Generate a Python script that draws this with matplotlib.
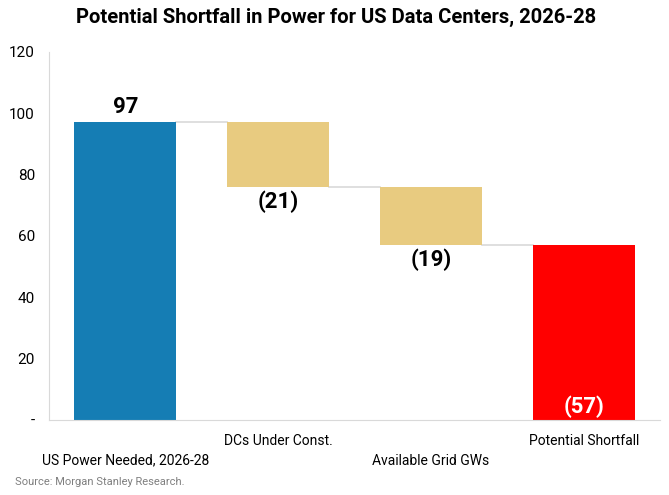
import matplotlib
import matplotlib.pyplot as plt
from matplotlib import font_manager

matplotlib.use('Agg')

categories = ["US Power Needed, 2026-28", "DCs Under Const.",
              "Available Grid GWs", "Potential Shortfall"]
changes = [97, -21, -19, 0]
labels = ["97", "(21)", "(19)", "(57)"]
colors = ["#157db4", "#e8cb80", "#e8cb80", "#ff0000"]

names = {f.name for f in font_manager.fontManager.ttflist}
font = "Liberation Sans Narrow" if "Liberation Sans Narrow" in names else "Roboto"
plt.rcParams['font.family'] = [font, 'DejaVu Sans']

# waterfall bottoms / tops
bottoms, heights = [], []
level = 0
for i, c in enumerate(changes):
    if i == 0:
        bottoms.append(0)
        heights.append(c)
        level = c
    elif i == len(changes) - 1:
        bottoms.append(0)
        heights.append(level)
    else:
        bottoms.append(level + c)
        heights.append(-c)
        level = level + c

fig, ax = plt.subplots(figsize=(6.69, 4.95), dpi=100)
fig.subplots_adjust(left=0.073, right=0.987, top=0.895, bottom=0.152)

x = range(len(categories))
w = 0.667
ax.bar(x, heights, bottom=bottoms, width=w, color=colors, zorder=2)

# connector lines
for i in range(len(categories) - 1):
    yl = heights[0] if i == 0 else bottoms[i]
    ax.plot([i + w / 2, i + 1 - w / 2], [yl, yl], color="#d9d9d9", lw=1.2, zorder=1)

# value labels
ax.text(0, heights[0] + 1.5, labels[0], ha='center', va='bottom',
        fontsize=16, fontweight='bold')
for i in (1, 2):
    ax.text(i, bottoms[i] - 1.2, labels[i], ha='center', va='top',
            fontsize=16, fontweight='bold')
ax.text(3, 0.5, labels[3], ha='center', va='bottom', fontsize=16,
        fontweight='bold', color='white')

ax.set_xlim(-0.5, 3.5)
ax.set_ylim(0, 120)
ax.set_yticks([0, 20, 40, 60, 80, 100, 120])
ax.set_yticklabels(["-", "20", "40", "60", "80", "100", "120"])
ax.tick_params(axis='y', length=0, labelsize=11, pad=10)
ax.set_xticks(list(x))
ax.set_xticklabels([])
ax.tick_params(axis='x', length=0)
for i, cat in enumerate(categories):
    off = -0.092 if i % 2 == 0 else -0.04
    ax.text(i, off, cat, transform=ax.get_xaxis_transform(), ha='center',
            va='top', fontsize=10)

for s in ('top', 'right'):
    ax.spines[s].set_visible(False)
for s in ('left', 'bottom'):
    ax.spines[s].set_color("#d9d9d9")

fig.suptitle("Potential Shortfall in Power for US Data Centers, 2026-28",
             x=0.502, y=0.985, fontsize=14.5, fontweight='bold')
fig.text(0.022, 0.02, "Source: Morgan Stanley Research.", fontsize=8,
         color="#7f7f7f")

plt.savefig("out.png")
